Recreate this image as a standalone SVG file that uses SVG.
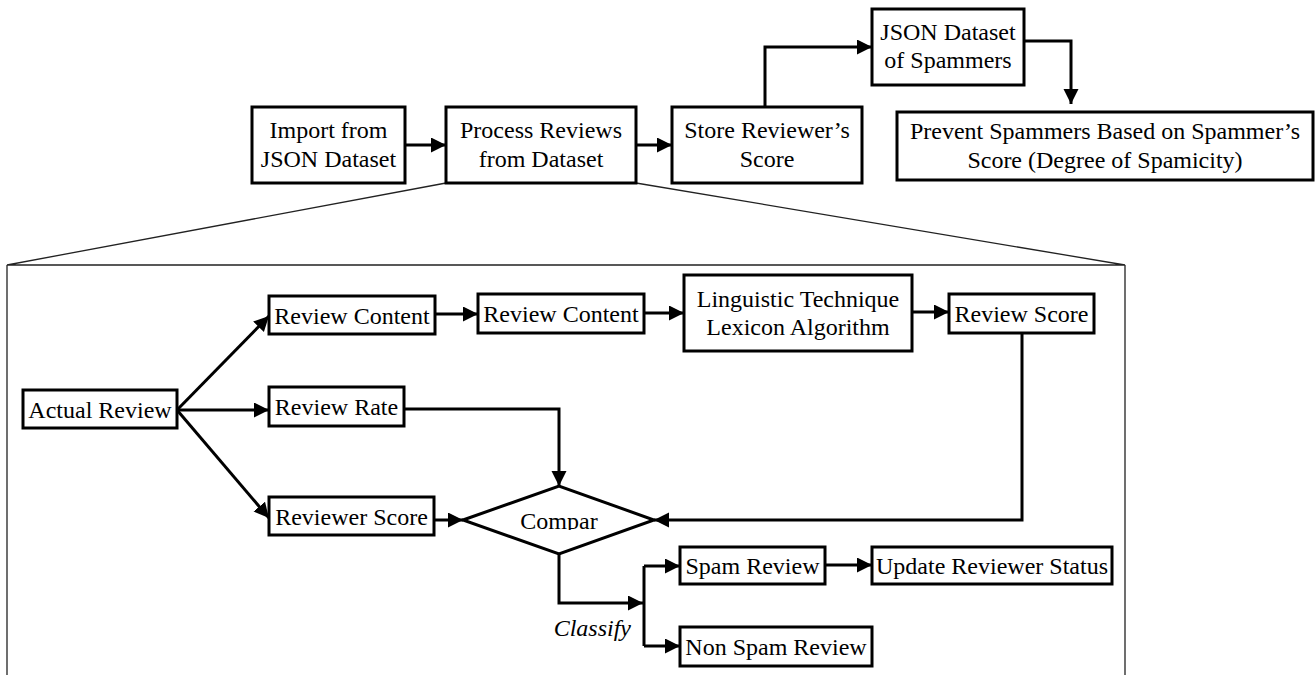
<svg xmlns="http://www.w3.org/2000/svg" width="1316" height="675" viewBox="0 0 1316 675">
<style>
.box{fill:#fff;stroke:#000;stroke-width:3}
.t{font-family:"Liberation Serif","Times New Roman",serif;font-size:24px;fill:#000;text-anchor:middle}
.c{fill:none;stroke:#000;stroke-width:3}
.f{fill:none;stroke:#222;stroke-width:1.3}
</style>
<defs>
<marker id="ah" markerUnits="userSpaceOnUse" markerWidth="16" markerHeight="16" refX="15" refY="7.5" orient="auto">
<path d="M0,0 L15,7.5 L0,15 z" fill="#000"/>
</marker>
<clipPath id="cmp"><rect x="480" y="490" width="160" height="40"/></clipPath>
</defs>
<rect width="1316" height="675" fill="#fff"/>
<g id="zoom-frame">
<path class="f" d="M446,183 L7,265 L1125,265 L636,183 M7,265 L7,675 M1125,265 L1125,675"/>
</g>
<g id="connectors">
<path class="c" marker-end="url(#ah)" d="M405,145 L446,145"/>
<path class="c" marker-end="url(#ah)" d="M636,145 L672,145"/>
<path class="c" marker-end="url(#ah)" d="M765,107 L765,47 L872,47"/>
<path class="c" marker-end="url(#ah)" d="M1024,41 L1071,41 L1071,104"/>
<path class="c" marker-end="url(#ah)" d="M177,410 L269,316"/>
<path class="c" marker-end="url(#ah)" d="M177,410 L269,410"/>
<path class="c" marker-end="url(#ah)" d="M177,410 L269,518"/>
<path class="c" marker-end="url(#ah)" d="M435,314 L478,314"/>
<path class="c" marker-end="url(#ah)" d="M644,313 L684,313"/>
<path class="c" marker-end="url(#ah)" d="M912,312 L949,312"/>
<path class="c" marker-end="url(#ah)" d="M404,409 L559,409 L559,486"/>
<path class="c" marker-end="url(#ah)" d="M1022,333 L1022,520 L654,520"/>
<path class="c" marker-end="url(#ah)" d="M434,520 L463,520"/>
<path class="c" marker-end="url(#ah)" d="M559,554 L559,603 L643,603"/>
<path class="c" d="M644,566 L644,646"/>
<path class="c" marker-end="url(#ah)" d="M644,566 L680,566"/>
<path class="c" marker-end="url(#ah)" d="M644,646 L680,646"/>
<path class="c" marker-end="url(#ah)" d="M825,565 L872,565"/>
</g>
<g id="import">
<rect class="box" x="252" y="107" width="153" height="76"/>
<text class="t" x="328.5" y="138">Import from</text>
<text class="t" x="328.5" y="167">JSON Dataset</text>
</g>
<g id="process">
<rect class="box" x="446" y="107" width="190" height="76"/>
<text class="t" x="541" y="138">Process Reviews</text>
<text class="t" x="541" y="167">from Dataset</text>
</g>
<g id="store">
<rect class="box" x="672" y="107" width="190" height="76"/>
<text class="t" x="767" y="138">Store Reviewer’s</text>
<text class="t" x="767" y="167">Score</text>
</g>
<g id="json-spammers">
<rect class="box" x="872" y="9" width="152" height="76"/>
<text class="t" x="948" y="40">JSON Dataset</text>
<text class="t" x="948" y="68">of Spammers</text>
</g>
<g id="prevent">
<rect class="box" x="897" y="112" width="416" height="68"/>
<text class="t" x="1105" y="139">Prevent Spammers Based on Spammer’s</text>
<text class="t" x="1105" y="168">Score (Degree of Spamicity)</text>
</g>
<g id="actual-review">
<rect class="box" x="23" y="390" width="154" height="38"/>
<text class="t" x="100" y="418">Actual Review</text>
</g>
<g id="review-content-1">
<rect class="box" x="269" y="296" width="166" height="38"/>
<text class="t" x="352" y="324">Review Content</text>
</g>
<g id="review-rate">
<rect class="box" x="269" y="387" width="135" height="39"/>
<text class="t" x="336.5" y="415">Review Rate</text>
</g>
<g id="reviewer-score">
<rect class="box" x="269" y="497" width="165" height="38"/>
<text class="t" x="351.5" y="525">Reviewer Score</text>
</g>
<g id="review-content-2">
<rect class="box" x="478" y="294" width="166" height="39"/>
<text class="t" x="561" y="322">Review Content</text>
</g>
<g id="linguistic">
<rect class="box" x="684" y="275" width="228" height="76"/>
<text class="t" x="798" y="307">Linguistic Technique</text>
<text class="t" x="798" y="335">Lexicon Algorithm</text>
</g>
<g id="review-score">
<rect class="box" x="949" y="294" width="145" height="39"/>
<text class="t" x="1021.5" y="322">Review Score</text>
</g>
<g id="compare">
<polygon class="box" points="463,520 559,486 654,520 559,554"/>
<text class="t" x="559" y="529" clip-path="url(#cmp)">Compar</text>
</g>
<g id="classify-label">
<text class="t" x="631" y="636" style="text-anchor:end;font-style:italic">Classify</text>
</g>
<g id="spam-review">
<rect class="box" x="680" y="547" width="145" height="37"/>
<text class="t" x="752.5" y="574">Spam Review</text>
</g>
<g id="update-status">
<rect class="box" x="872" y="547" width="240" height="37"/>
<text class="t" x="992" y="574">Update Reviewer Status</text>
</g>
<g id="non-spam-review">
<rect class="box" x="680" y="627" width="192" height="39"/>
<text class="t" x="776" y="655">Non Spam Review</text>
</g>
</svg>
